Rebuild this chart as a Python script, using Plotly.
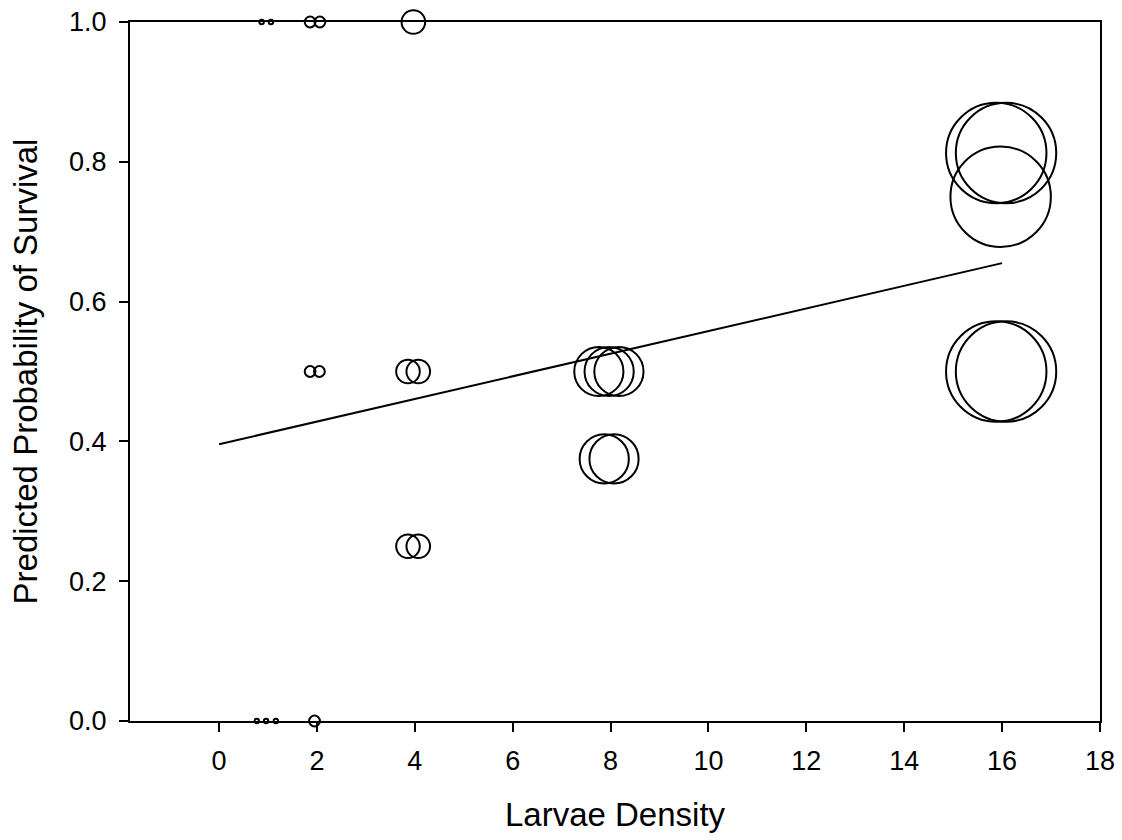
import plotly.graph_objects as go

# Data
density = [1, 1, 1, 1, 1,
           2, 2, 2, 2, 2,
           4, 4, 4, 4, 4,
           8, 8, 8, 8, 8,
           16, 16, 16, 16, 16]
x_jit = [0.87, 1.06, 0.77, 0.96, 1.16,
         1.86, 2.06, 1.86, 2.05, 1.95,
         3.97, 3.86, 4.07, 3.86, 4.07,
         7.76, 7.97, 8.17, 7.87, 8.07,
         15.88, 16.08, 15.97, 15.88, 16.08]
survival = [1.0, 1.0, 0.0, 0.0, 0.0,
            1.0, 1.0, 0.5, 0.5, 0.0,
            1.0, 0.5, 0.5, 0.25, 0.25,
            0.5, 0.5, 0.5, 0.375, 0.375,
            0.8125, 0.8125, 0.75, 0.5, 0.5]

fit_x = [0, 8, 16]
fit_y = [0.396, 0.525, 0.655]

x_ticks = [0, 2, 4, 6, 8, 10, 12, 14, 16, 18]
y_ticks = [0.0, 0.2, 0.4, 0.6, 0.8, 1.0]

FONT = "Arial, 'Liberation Sans', sans-serif"
LW = 2
sizes = [6.4 * d - LW for d in density]

fig = go.Figure()
fig.add_trace(go.Scatter(
    x=fit_x, y=fit_y, mode="lines",
    line=dict(color="black", width=2),
    showlegend=False, hoverinfo="skip",
))
fig.add_trace(go.Scatter(
    x=x_jit, y=survival, mode="markers",
    marker=dict(size=sizes, sizemode="diameter", symbol="circle-open",
                color="black", opacity=1, line=dict(color="black", width=LW)),
    cliponaxis=False, showlegend=False,
))

fig.update_layout(
    width=1122, height=840,
    margin=dict(l=130, r=22, t=22, b=119, autoexpand=False),
    paper_bgcolor="white", plot_bgcolor="white",
    font=dict(family=FONT, color="black"),
    showlegend=False,
)
fig.update_xaxes(
    range=[-1.82, 18], tickmode="array", tickvals=x_ticks,
    ticktext=[str(v) for v in x_ticks],
    ticks="outside", ticklen=9, tickwidth=2, tickcolor="black",
    showline=True, linecolor="black", linewidth=2, mirror=True,
    showgrid=False, zeroline=False, automargin=False,
    ticklabelstandoff=6,
    tickfont=dict(size=27, family=FONT, color="black"),
    title=dict(text="Larvae Density", font=dict(size=33, family=FONT, color="black"),
               standoff=27),
)
fig.update_yaxes(
    range=[0, 1], tickmode="array", tickvals=y_ticks,
    ticktext=[f"{v:.1f}" for v in y_ticks],
    ticks="outside", ticklen=9, tickwidth=2, tickcolor="black",
    showline=True, linecolor="black", linewidth=2, mirror=True,
    showgrid=False, zeroline=False, automargin=False,
    ticklabelstandoff=7,
    tickfont=dict(size=27, family=FONT, color="black"),
    title=dict(text="Predicted Probability of Survival",
               font=dict(size=33, family=FONT, color="black"), standoff=22),
)

fig.write_html("out.html", config={"displayModeBar": False},
               post_script="document.body.style.margin='0';")
